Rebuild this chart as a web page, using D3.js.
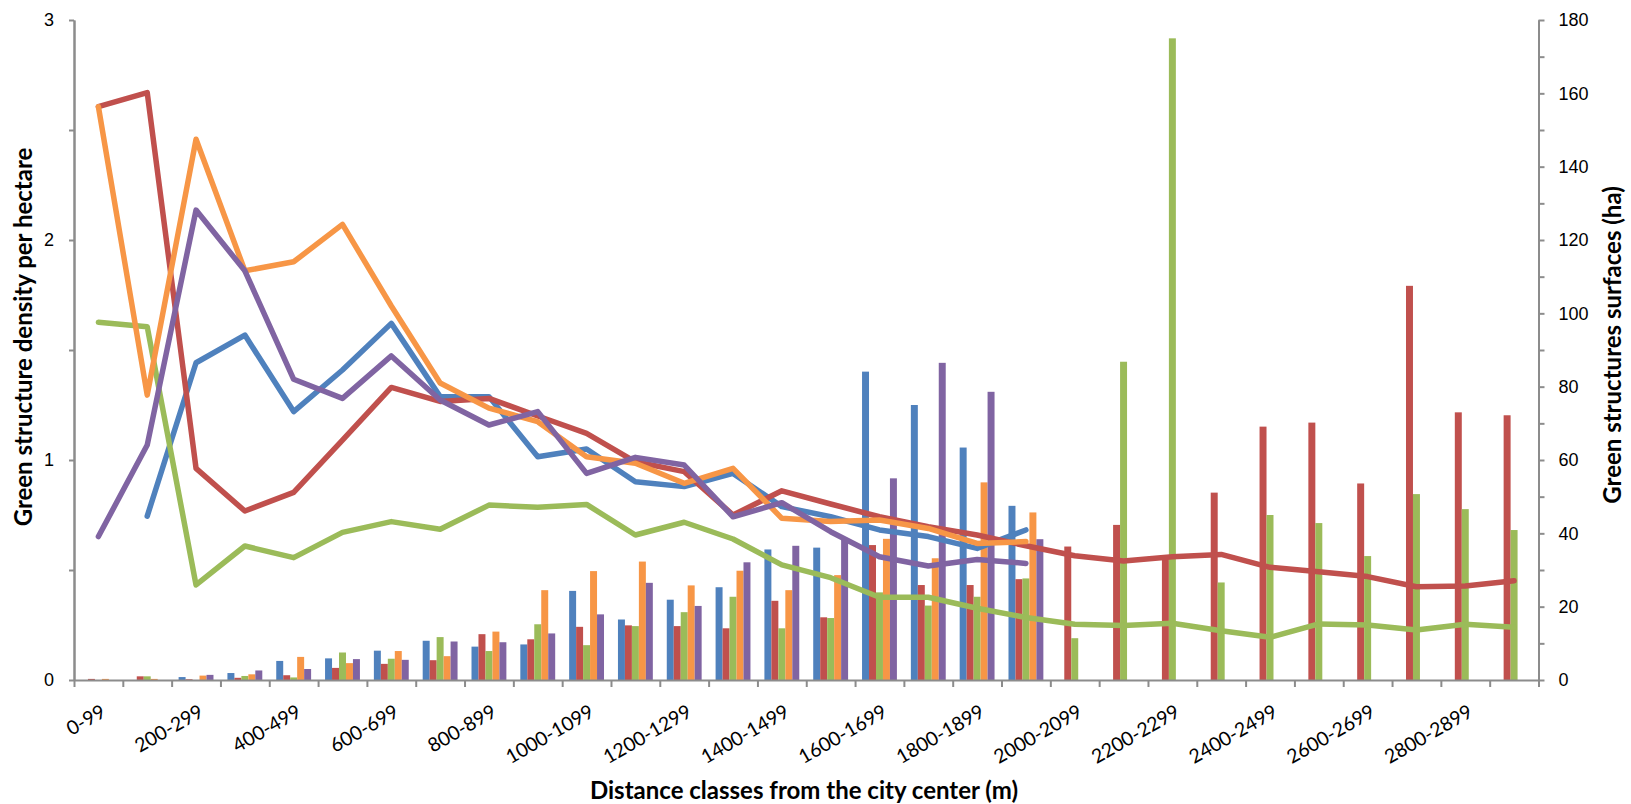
<!DOCTYPE html>
<html>
<head>
<meta charset="utf-8">
<script src="https://cdn.jsdelivr.net/npm/d3@7"></script>
<style>
  body { margin: 0; background: #fff; }
  svg { display: block; font-family: Lato, "Open Sans", sans-serif; }
  .axis path, .axis line { stroke: #8c8c8c; stroke-width: 2; }
  .axis text { fill: #000; font-size: 18px; }
  .title { font-size: 24px; font-weight: bold; fill: #000; }
</style>
</head>
<body>
<div id="chart"></div>
<script>
const categories = ['0-99','100-199','200-299','300-399','400-499','500-599','600-699','700-799','800-899','900-999',
  '1000-1099','1100-1199','1200-1299','1300-1399','1400-1499','1500-1599','1600-1699','1700-1799','1800-1899','1900-1999',
  '2000-2099','2100-2199','2200-2299','2300-2399','2400-2499','2500-2599','2600-2699','2700-2799','2800-2899','2900-2999'];

const seriesNames = ['blue','red','green','orange','purple'];
const colors = ['#4f81bd','#c0504d','#9bbb59','#f79646','#8064a2'];

// bars : green structures surfaces (ha), right axis
const barsBlue   = [0,0,0.8,1.9,5.2,5.9,8.0,10.7,9.1,9.7,24.3,16.5,21.9,25.3,35.6,36.1,84.1,75.0,63.4,47.5,
  null,null,null,null,null,null,null,null,null,null];
const barsRed    = [0.3,1.0,0.2,0.6,1.3,3.3,4.4,5.4,12.5,11.1,14.5,14.9,14.7,14.1,21.6,17.1,36.8,25.9,25.9,27.5,
  36.4,42.3,33.2,51.1,69.1,70.2,53.6,107.5,73.0,72.2];
const barsGreen  = [0,1.0,0,1.1,0.7,7.5,5.8,11.7,7.9,15.2,9.5,14.7,18.5,22.7,14.1,16.9,23.9,20.3,22.7,27.7,
  11.4,86.8,175.0,26.6,45.0,42.8,33.8,50.7,46.6,40.9];
const barsOrange = [0.3,0.3,1.2,1.55,6.3,4.6,7.9,6.5,13.2,24.5,29.7,32.3,25.8,29.8,24.5,28.6,38.5,33.2,53.9,45.7,
  null,null,null,null,null,null,null,null,null,null];
const barsPurple = [0,0,1.4,2.6,3.0,5.7,5.5,10.5,10.3,12.7,17.9,26.5,20.2,32.1,36.6,38.2,55.0,86.5,78.6,38.4,
  null,null,null,null,null,null,null,null,null,null];

// lines : green structure density per hectare, left axis
const lineBlue   = [null,0.745,1.442,1.568,1.22,1.409,1.621,1.288,1.288,1.015,1.05,0.901,0.879,0.939,0.788,0.742,0.682,0.652,0.598,0.682,
  null,null,null,null,null,null,null,null,null,null];
const lineRed    = [2.606,2.67,0.962,0.768,0.853,1.09,1.33,1.266,1.28,1.2,1.121,0.992,0.947,0.75,0.86,0.8,0.742,0.697,0.659,0.61,
  0.565,0.541,0.56,0.571,0.512,0.492,0.47,0.424,0.427,0.451];
const lineGreen  = [1.626,1.606,0.432,0.609,0.556,0.671,0.72,0.685,0.795,0.785,0.798,0.659,0.717,0.641,0.523,0.465,0.376,0.376,0.326,0.284,
  0.253,0.248,0.258,0.224,0.194,0.255,0.25,0.227,0.253,0.24];
const lineOrange = [2.606,1.295,2.458,1.86,1.901,2.071,1.70,1.35,1.236,1.174,1.015,0.985,0.894,0.962,0.735,0.72,0.727,0.689,0.621,0.629,
  null,null,null,null,null,null,null,null,null,null];
const linePurple = [0.652,1.068,2.136,1.86,1.367,1.28,1.473,1.273,1.159,1.22,0.939,1.012,0.977,0.742,0.806,0.674,0.56,0.518,0.548,0.53,
  null,null,null,null,null,null,null,null,null,null];

const leftTicks = [0,1,2,3];
const leftMinor = [0.5,1.5,2.5];
const rightTicks = [0,20,40,60,80,100,120,140,160,180];
const rightMinor = [10,30,50,70,90,110,130,150,170];

const barSeries = [barsBlue, barsRed, barsGreen, barsOrange, barsPurple];
const lineSeries = [lineBlue, lineRed, lineGreen, lineOrange, linePurple];

const width = 1631, height = 804;
const plotLeft = 74, plotRight = 1538.5, plotTop = 20, plotBottom = 680;

const svg = d3.select('#chart').append('svg')
  .attr('width', width)
  .attr('height', height);

// scales
const x = d3.scaleBand().domain(categories).range([plotLeft, plotRight]).padding(0);
const xInner = d3.scaleBand().domain(seriesNames).range([0, x.bandwidth()])
  .paddingInner(0).paddingOuter(1);
const xEdges = d3.scaleLinear().domain([0, categories.length]).range([plotLeft, plotRight]);
const yL = d3.scaleLinear().domain([0, 3]).range([plotBottom, plotTop]);
const yR = d3.scaleLinear().domain([0, 180]).range([plotBottom, plotTop]);

// bars
seriesNames.forEach((s, k) => {
  svg.append('g')
    .selectAll('rect')
    .data(barSeries[k].map((v, i) => ({cat: categories[i], v: v})).filter(d => d.v != null && d.v > 0))
    .enter()
    .append('rect')
      .attr('x', d => x(d.cat) + xInner(s))
      .attr('y', d => yR(d.v))
      .attr('width', xInner.bandwidth())
      .attr('height', d => yR(0) - yR(d.v))
      .attr('fill', colors[k]);
});

// axes
svg.append('g').attr('class', 'axis')
  .attr('transform', 'translate(0,' + plotBottom + ')')
  .call(d3.axisBottom(xEdges).tickValues(d3.range(0, categories.length + 1)).tickFormat('').tickSize(7).tickSizeOuter(0));

svg.append('g').attr('class', 'axis')
  .attr('transform', 'translate(' + plotLeft + ',0)')
  .call(d3.axisLeft(yL).tickValues(leftTicks).tickFormat(d3.format('d')).tickSize(5).tickPadding(15).tickSizeOuter(0));
svg.append('g').attr('class', 'axis')
  .attr('transform', 'translate(' + plotLeft + ',0)')
  .call(d3.axisLeft(yL).tickValues(leftMinor).tickFormat('').tickSize(5).tickSizeOuter(0));

svg.append('g').attr('class', 'axis')
  .attr('transform', 'translate(' + plotRight + ',0)')
  .call(d3.axisRight(yR).tickValues(rightTicks).tickFormat(d3.format('d')).tickSize(6).tickPadding(14).tickSizeOuter(0));
svg.append('g').attr('class', 'axis')
  .attr('transform', 'translate(' + plotRight + ',0)')
  .call(d3.axisRight(yR).tickValues(rightMinor).tickFormat('').tickSize(6).tickSizeOuter(0));

// category labels, every other one
svg.append('g')
  .selectAll('text')
  .data(categories.filter((c, i) => i % 2 === 0))
  .enter()
  .append('text')
    .attr('transform', d => 'translate(' + (x(d) + x.bandwidth() / 2 + 5) + ',709) rotate(-30)')
    .attr('text-anchor', 'end')
    .attr('dominant-baseline', 'central')
    .style('font-size', '19.5px')
    .text(d => d);

// lines
const line = d3.line()
  .defined(d => d.v != null)
  .x(d => x(d.cat) + x.bandwidth() / 2)
  .y(d => yL(d.v));

lineSeries.forEach((vals, k) => {
  svg.append('path')
    .datum(vals.map((v, i) => ({cat: categories[i], v: v})))
    .attr('d', line)
    .attr('fill', 'none')
    .attr('stroke', colors[k])
    .attr('stroke-width', 5.5)
    .attr('stroke-linejoin', 'round')
    .attr('stroke-linecap', 'round');
});

// titles
svg.append('text').attr('class', 'title')
  .attr('transform', 'translate(22,337) rotate(-90)')
  .attr('text-anchor', 'middle')
  .attr('dominant-baseline', 'central')
  .text('Green structure density per hectare');

svg.append('text').attr('class', 'title')
  .attr('transform', 'translate(1611,345) rotate(-90)')
  .attr('text-anchor', 'middle')
  .attr('dominant-baseline', 'central')
  .text('Green structures surfaces (ha)');

svg.append('text').attr('class', 'title')
  .attr('x', 804)
  .attr('y', 789)
  .attr('text-anchor', 'middle')
  .attr('dominant-baseline', 'central')
  .text('Distance classes from the city center (m)');
</script>
</body>
</html>
